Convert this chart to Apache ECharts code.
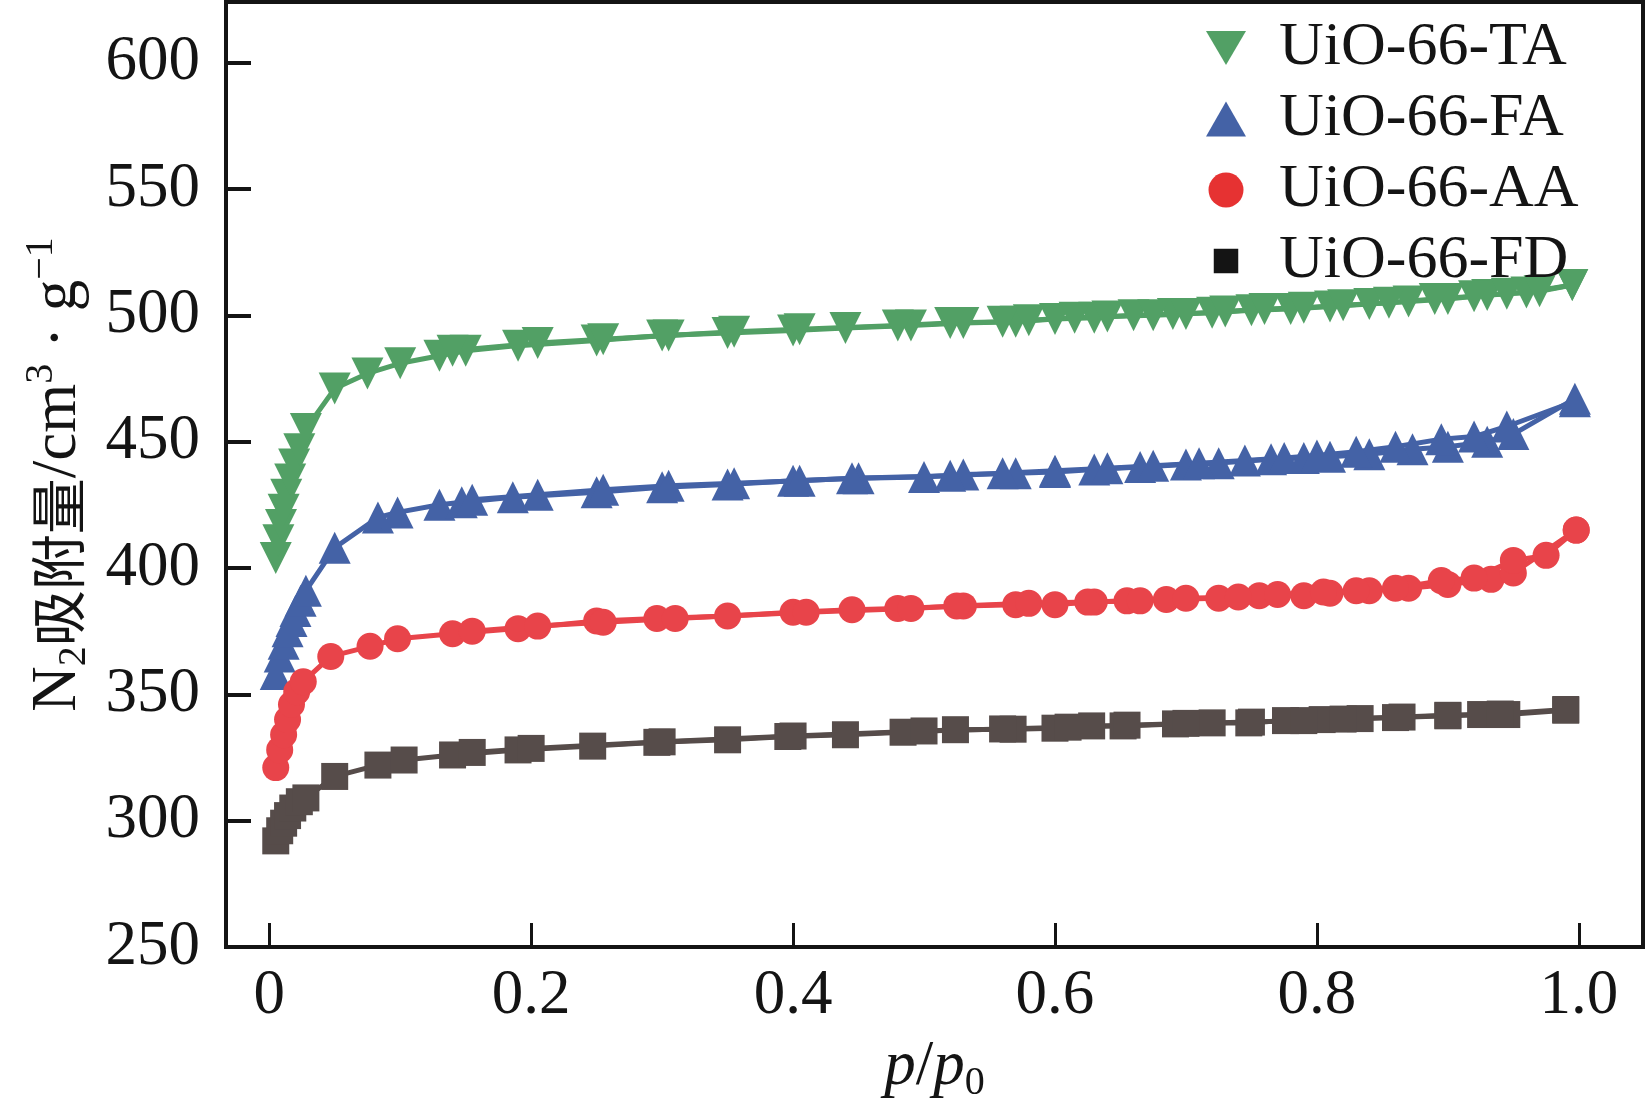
<!DOCTYPE html>
<html>
<head>
<meta charset="utf-8">
<title>N2 adsorption isotherms</title>
<script src="https://cdn.jsdelivr.net/npm/echarts@6/dist/echarts.min.js"></script>
<style>
  html, body { margin: 0; padding: 0; background: #fff; }
  #main { width: 1646px; height: 1117px; }
</style>
</head>
<body>
<div id="main"></div>
<script>
// 相对压力 p/p0 与吸附量（cm3/g），吸附支 / 脱附支分开存放
const taAdsP = [0.005, 0.007, 0.009, 0.011, 0.013, 0.016, 0.019, 0.023, 0.028, 0.05, 0.075, 0.1, 0.13, 0.15, 0.19, 0.25, 0.3, 0.35, 0.4, 0.44, 0.49, 0.53, 0.57, 0.6, 0.63, 0.66, 0.69, 0.72, 0.75, 0.78, 0.81, 0.84, 0.87, 0.9, 0.93, 0.96, 0.995];
const taAdsV = [404, 411, 417, 423, 429, 435, 441, 447, 455, 471, 477, 481, 484, 486, 488, 490, 492, 493, 494, 495, 496, 497, 497.5, 498.5, 499, 500, 500.5, 501, 502, 502.5, 503.5, 504.5, 505.5, 506.5, 508, 509, 512];
const taDesP = [0.995, 0.97, 0.945, 0.92, 0.89, 0.855, 0.82, 0.79, 0.76, 0.73, 0.7, 0.675, 0.64, 0.615, 0.58, 0.56, 0.52, 0.48, 0.405, 0.355, 0.305, 0.255, 0.205, 0.14];
const taDesV = [512, 509.5, 508.5, 507.5, 506.5, 505, 504, 503, 502.5, 501.5, 500.5, 500, 499.5, 499, 498, 497.5, 497, 496, 494.5, 493.5, 492, 490.5, 489, 486];

const faAdsP = [0.005, 0.008, 0.011, 0.014, 0.017, 0.02, 0.024, 0.028, 0.05, 0.083, 0.098, 0.13, 0.147, 0.186, 0.25, 0.3, 0.35, 0.4, 0.45, 0.5, 0.53, 0.57, 0.6, 0.63, 0.665, 0.7, 0.725, 0.765, 0.79, 0.81, 0.84, 0.873, 0.9, 0.93, 0.95, 0.997];
const faAdsV = [358, 365, 370, 375, 379, 383, 387, 391, 408, 420, 422, 425, 426, 428, 430, 432, 433, 434.5, 435.5, 436, 437, 437.5, 438, 439, 440, 441, 441.5, 443, 443.5, 444, 445, 447, 448, 450, 453, 467];
const faDesP = [0.997, 0.945, 0.92, 0.895, 0.86, 0.83, 0.8, 0.775, 0.745, 0.71, 0.675, 0.64, 0.6, 0.56, 0.52, 0.445, 0.405, 0.355, 0.305, 0.255, 0.205, 0.155];
const faDesV = [466, 456, 452, 451, 448, 446, 444.5, 443.5, 442.5, 441.5, 440.5, 439.5, 438.5, 437.5, 436.5, 435.5, 434.5, 433.5, 432.5, 431, 429, 427];

const aaAdsP = [0.005, 0.008, 0.011, 0.014, 0.017, 0.021, 0.026, 0.047, 0.077, 0.098, 0.14, 0.19, 0.25, 0.296, 0.35, 0.4, 0.445, 0.48, 0.53, 0.57, 0.6, 0.63, 0.655, 0.685, 0.725, 0.756, 0.79, 0.81, 0.84, 0.87, 0.9, 0.933, 0.95, 0.998];
const aaAdsV = [321, 328, 334, 340, 346, 351, 355, 365, 369, 372, 374, 376, 379, 380, 381, 382.5, 383.5, 384, 385, 385.5, 385.5, 386.5, 387, 387.5, 388, 389, 389, 390, 391, 392, 393.5, 395.5, 398, 415];
const aaDesP = [0.998, 0.975, 0.95, 0.92, 0.895, 0.86, 0.83, 0.805, 0.77, 0.74, 0.7, 0.665, 0.625, 0.58, 0.525, 0.49, 0.41, 0.31, 0.255, 0.205, 0.155];
const aaDesV = [415, 405, 403, 396, 395, 392, 391, 390.5, 389.5, 388.5, 388, 387, 386.5, 386, 385, 384, 382.5, 380, 378.5, 377, 375];

const fdAdsP = [0.005, 0.008, 0.011, 0.014, 0.018, 0.023, 0.028, 0.05, 0.083, 0.103, 0.14, 0.19, 0.247, 0.296, 0.35, 0.396, 0.44, 0.484, 0.524, 0.568, 0.6, 0.628, 0.652, 0.692, 0.72, 0.748, 0.776, 0.804, 0.833, 0.865, 0.9, 0.925, 0.945, 0.99];
const fdAdsV = [292, 296, 299, 302, 305, 307.5, 309, 317.5, 322, 324, 326, 328, 329.5, 331, 332, 333.3, 334, 335, 336, 336.2, 336.6, 337.5, 337.5, 338.3, 338.7, 338.7, 339.6, 340, 340.4, 341, 341.7, 342, 342, 343.7];
const fdDesP = [0.99, 0.94, 0.9, 0.86, 0.82, 0.79, 0.75, 0.7, 0.655, 0.61, 0.56, 0.5, 0.4, 0.3, 0.2, 0.155];
const fdDesV = [344, 342.2, 341.5, 340.8, 340.2, 339.6, 339, 338.5, 337.8, 337, 336.3, 335.5, 333.5, 331.2, 328.6, 327];

const seriesNames = ['UiO-66-TA', 'UiO-66-FA', 'UiO-66-AA', 'UiO-66-FD'];
const xTicks = [0, 0.2, 0.4, 0.6, 0.8, 1.0];
const xTickLabels = ['0', '0.2', '0.4', '0.6', '0.8', '1.0'];
const yTicks = [250, 300, 350, 400, 450, 500, 550, 600];

const serif = "'Liberation Serif', 'Times New Roman', 'Noto Sans CJK SC', serif";

function zip(ps, vs) {
    return ps.map((p, i) => [p, vs[i]]);
}

// 图例图标：倒三角、正三角、圆、带留白的小方块
const legendIcons = [
    'path://M0,0L10,0L5,8.5Z',
    'triangle',
    'circle',
    'path://M0,0M40,40M6,6L34,6L34,34L6,34Z'
];

const styles = [
    { color: '#52a065', symbol: 'triangle', size: 32, rotate: 180, legendColor: '#52a065' },
    { color: '#4462a6', symbol: 'triangle', size: 32, rotate: 0, legendColor: '#4462a6' },
    { color: '#e8444a', symbol: 'circle', size: 27, rotate: 0, legendColor: '#e63232' },
    { color: '#564c4a', symbol: 'rect', size: 27, rotate: 0, legendColor: '#141414' }
];

const branches = [
    [zip(taAdsP, taAdsV), zip(taDesP, taDesV)],
    [zip(faAdsP, faAdsV), zip(faDesP, faDesV)],
    [zip(aaAdsP, aaAdsV), zip(aaDesP, aaDesV)],
    [zip(fdAdsP, fdAdsV), zip(fdDesP, fdDesV)]
];

const series = [];
seriesNames.forEach((name, i) => {
    const st = styles[i];
    branches[i].forEach(data => {
        series.push({
            name: name,
            type: 'line',
            data: data,
            symbol: st.symbol,
            symbolSize: st.size,
            symbolRotate: st.rotate,
            showAllSymbol: true,
            lineStyle: { color: st.color, width: 5 },
            itemStyle: { color: st.color },
            emphasis: { disabled: true }
        });
    });
});

const chart = echarts.init(document.getElementById('main'));
chart.setOption({
    animation: false,
    backgroundColor: '#fff',
    grid: {
        left: 226,
        right: 3,
        top: 2,
        bottom: 170,
        show: true,
        borderColor: '#141414',
        borderWidth: 4
    },
    legend: {
        orient: 'vertical',
        left: 1201,
        top: 12,
        itemWidth: 40,
        itemHeight: 35,
        itemGap: 9,
        selectedMode: false,
        textStyle: {
            fontFamily: serif,
            fontSize: 62,
            lineHeight: 60,
            color: '#141414',
            padding: [0, 0, 0, 28]
        },
        data: seriesNames.map((name, i) => ({
            name: name,
            icon: legendIcons[i],
            itemStyle: { color: styles[i].legendColor }
        }))
    },
    xAxis: {
        type: 'value',
        min: -0.033,
        max: 1.049,
        splitLine: { show: false },
        axisLine: { onZero: false, lineStyle: { color: '#141414', width: 4 } },
        axisTick: {
            inside: true,
            length: 24,
            customValues: xTicks,
            lineStyle: { color: '#141414', width: 3 }
        },
        axisLabel: {
            customValues: xTicks,
            margin: 18,
            fontFamily: serif,
            fontSize: 63,
            color: '#141414',
            formatter: v => xTickLabels[xTicks.findIndex(t => Math.abs(t - v) < 1e-6)]
        },
        name: '{i|p}{n|/}{i|p}{sub|0}',
        nameLocation: 'middle',
        nameGap: 84,
        nameTextStyle: {
            rich: {
                i: { fontFamily: serif, fontSize: 63, fontStyle: 'italic', color: '#141414', lineHeight: 72 },
                n: { fontFamily: serif, fontSize: 63, color: '#141414', lineHeight: 72 },
                sub: { fontFamily: serif, fontSize: 40, color: '#141414', lineHeight: 34, verticalAlign: 'bottom' }
            }
        }
    },
    yAxis: {
        type: 'value',
        min: 250,
        max: 624,
        splitLine: { show: false },
        axisLine: { onZero: false, lineStyle: { color: '#141414', width: 4 } },
        axisTick: {
            inside: true,
            length: 25,
            customValues: yTicks,
            lineStyle: { color: '#141414', width: 4 }
        },
        axisLabel: {
            customValues: yTicks,
            margin: 26,
            fontFamily: serif,
            fontSize: 63,
            color: '#141414'
        },
        name: '{n|N}{sub|2}{cn|吸附量}{n|/cm}{sup|3}{n| · g}{sup|−1}',
        nameLocation: 'middle',
        nameRotate: 90,
        nameGap: 132,
        nameTextStyle: {
            rich: {
                n: { fontFamily: serif, fontSize: 63, color: '#141414', lineHeight: 72 },
                cn: { fontFamily: "'Noto Sans CJK SC', sans-serif", fontSize: 56, color: '#141414', lineHeight: 72 },
                sub: { fontFamily: serif, fontSize: 40, color: '#141414', lineHeight: 38, verticalAlign: 'bottom' },
                sup: { fontFamily: serif, fontSize: 40, color: '#141414', lineHeight: 40, verticalAlign: 'top' }
            }
        }
    },
    series: series
});
</script>
</body>
</html>
